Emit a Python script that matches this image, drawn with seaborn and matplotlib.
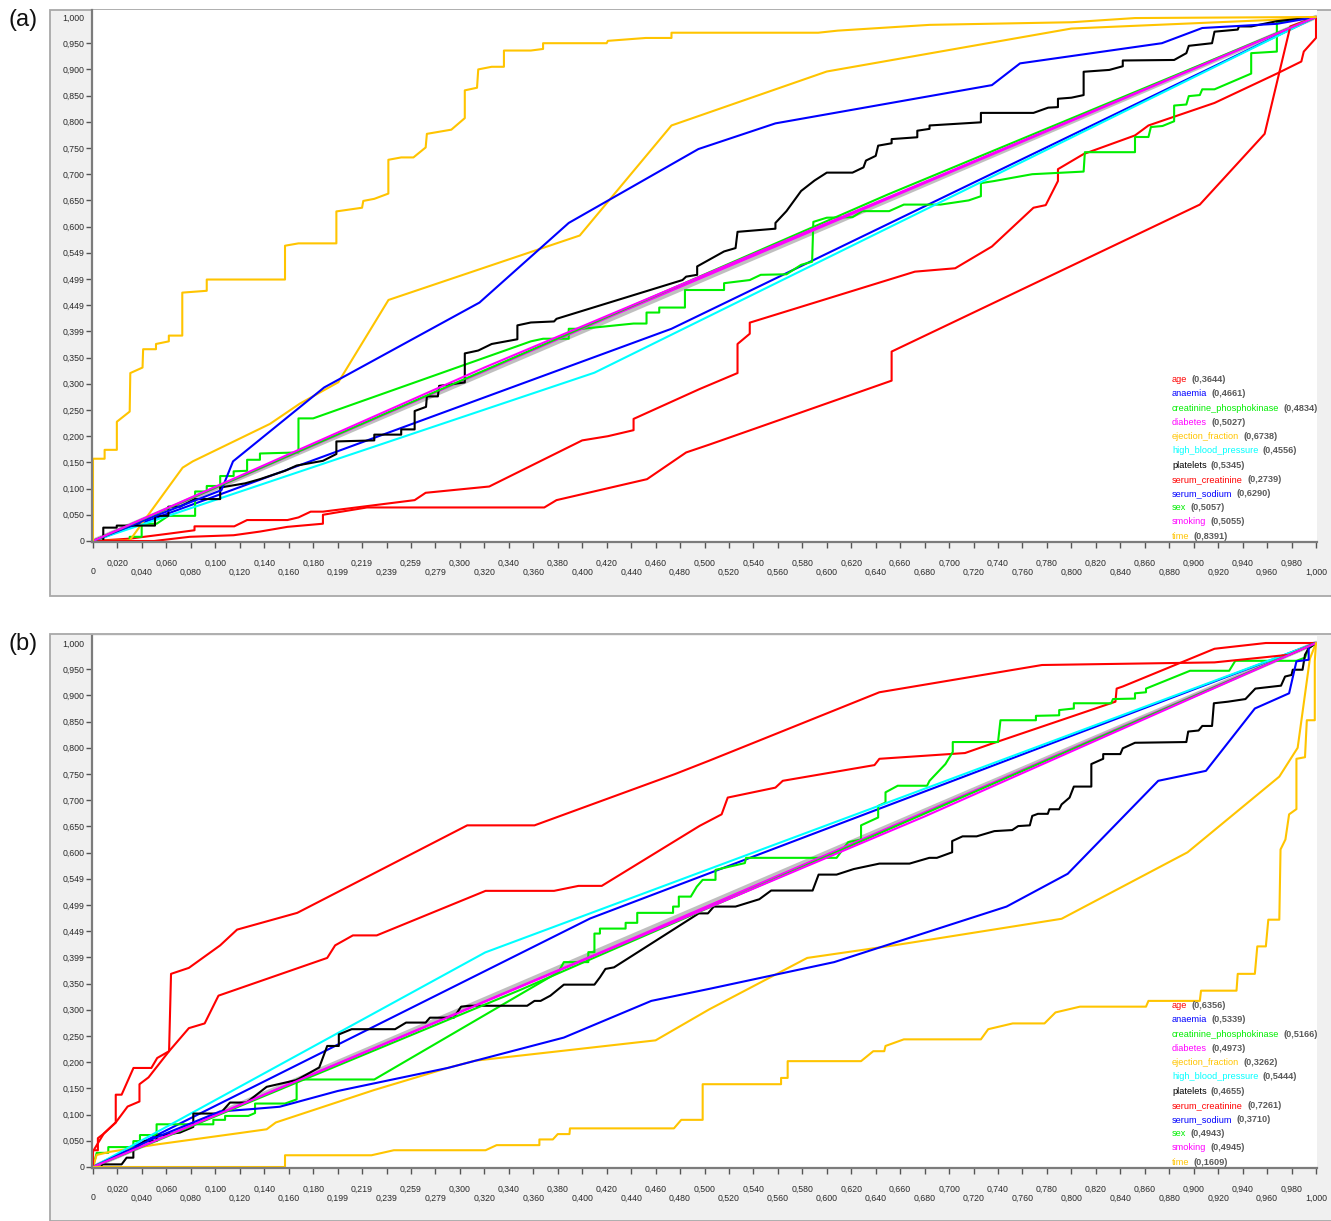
import numpy as np
import pandas as pd
import matplotlib
matplotlib.use("Agg")
import matplotlib.pyplot as plt
import seaborn as sns
from matplotlib.patches import Rectangle

sns.set_theme(style="white")
plt.rcParams["font.family"] = ["Liberation Sans", "DejaVu Sans"]

# ---------------------------------------------------------------- labels
ATTRIBUTES = ["age", "anaemia", "creatinine_phosphokinase", "diabetes",
              "ejection_fraction", "high_blood_pressure", "platelets",
              "serum_creatinine", "serum_sodium", "sex", "smoking", "time"]
COLORS = ["#ff0000", "#0000ff", "#00ee00", "#ff00ff", "#ffc400", "#00ffff",
          "#000000", "#ff0000", "#0000ff", "#00ee00", "#ff00ff", "#ffc400"]
AUC_A = [0.3644, 0.4661, 0.4834, 0.5027, 0.6738, 0.4556,
         0.5345, 0.2739, 0.6290, 0.5057, 0.5055, 0.8391]
AUC_B = [0.6356, 0.5339, 0.5166, 0.4973, 0.3262, 0.5444,
         0.4655, 0.7261, 0.3710, 0.4943, 0.4945, 0.1609]

X_TICK_LABELS = ["0", "0,020", "0,040", "0,060", "0,080", "0,100", "0,120", "0,140",
                 "0,160", "0,180", "0,199", "0,219", "0,239", "0,259", "0,279",
                 "0,300", "0,320", "0,340", "0,360", "0,380", "0,400", "0,420",
                 "0,440", "0,460", "0,480", "0,500", "0,520", "0,540", "0,560",
                 "0,580", "0,600", "0,620", "0,640", "0,660", "0,680", "0,700",
                 "0,720", "0,740", "0,760", "0,780", "0,800", "0,820", "0,840",
                 "0,860", "0,880", "0,900", "0,920", "0,940", "0,960", "0,980",
                 "1,000"]
Y_TICK_LABELS = ["0", "0,050", "0,100", "0,150", "0,200", "0,250", "0,300", "0,350",
                 "0,399", "0,449", "0,499", "0,549", "0,600", "0,650", "0,700",
                 "0,750", "0,800", "0,850", "0,900", "0,950", "1,000"]

# ------------------------------------------------- panel (a): (FPR, TPR) points
a_age = [(0, 0), (0.03, 0.0045), (0.062, 0.014), (0.083, 0.0205), (0.083, 0.028),
         (0.1155, 0.028), (0.126, 0.040), (0.159, 0.040), (0.168, 0.045), (0.178, 0.056),
         (0.188, 0.056), (0.263, 0.078), (0.272, 0.092), (0.324, 0.104), (0.400, 0.192),
         (0.421, 0.200), (0.442, 0.2115), (0.442, 0.233), (0.496, 0.290), (0.527, 0.3205),
         (0.527, 0.376), (0.537, 0.3955), (0.537, 0.4167), (0.672, 0.514), (0.705, 0.5205),
         (0.735, 0.562), (0.769, 0.636), (0.779, 0.641), (0.789, 0.687), (0.789, 0.7096),
         (0.810, 0.7385), (0.852, 0.774), (0.863, 0.793), (0.917, 0.836), (0.968, 0.892),
         (0.988, 0.915), (0.990, 0.934), (1.0, 0.96), (1.0, 1.0)]
a_anaemia = [(0, 0), (0.473, 0.405), (1, 1)]
a_creatinine_phosphokinase = [
    (0, 0), (0.03, 0), (0.03, 0.008), (0.0398, 0.008), (0.0398, 0.033), (0.0521, 0.033),
    (0.0616, 0.048), (0.0835, 0.048), (0.0835, 0.0945), (0.093, 0.0945), (0.093, 0.105),
    (0.104, 0.105), (0.104, 0.124), (0.115, 0.124), (0.115, 0.133), (0.126, 0.134),
    (0.126, 0.155), (0.1365, 0.155), (0.1365, 0.167), (0.168, 0.169), (0.168, 0.234),
    (0.180, 0.234), (0.358, 0.381), (0.368, 0.386), (0.389, 0.386), (0.389, 0.405),
    (0.400, 0.405), (0.442, 0.415), (0.4526, 0.415), (0.4526, 0.436), (0.463, 0.436),
    (0.463, 0.4455), (0.484, 0.4455), (0.484, 0.479), (0.516, 0.479), (0.516, 0.492),
    (0.537, 0.498), (0.546, 0.508), (0.567, 0.509), (0.579, 0.527), (0.588, 0.533),
    (0.589, 0.609), (0.600, 0.617), (0.621, 0.618), (0.629, 0.6295), (0.651, 0.6295),
    (0.663, 0.642), (0.693, 0.642), (0.716, 0.650), (0.726, 0.658), (0.726, 0.683),
    (0.737, 0.687), (0.768, 0.700), (0.810, 0.705), (0.811, 0.742), (0.852, 0.742),
    (0.852, 0.771), (0.863, 0.771), (0.865, 0.790), (0.8745, 0.792), (0.884, 0.801),
    (0.884, 0.831), (0.894, 0.833), (0.896, 0.849), (0.905, 0.851), (0.907, 0.862),
    (0.917, 0.862), (0.947, 0.892), (0.947, 0.931), (0.968, 0.934), (0.968, 0.990),
    (1, 1)]
a_diabetes = [(0, 0), (0.42, 0.4254), (1, 1)]
a_ejection_fraction = [
    (0, 0), (0.030, 0.001), (0.0733, 0.140), (0.0816, 0.152), (0.1447, 0.2235),
    (0.169, 0.262), (0.2006, 0.303), (0.2416, 0.460), (0.398, 0.583), (0.473, 0.793),
    (0.600, 0.896), (0.800, 0.978), (0.970, 0.995), (1, 1)]
a_high_blood_pressure = [(0, 0), (0.41, 0.3212), (1, 1)]
a_platelets = [
    (0, 0), (0.0084, 0), (0.0084, 0.0255), (0.0194, 0.0255), (0.0194, 0.0294),
    (0.0384, 0.0294), (0.0507, 0.0294), (0.0507, 0.048), (0.0616, 0.048), (0.0616, 0.0655),
    (0.0711, 0.0655), (0.0834, 0.080), (0.104, 0.080), (0.104, 0.102), (0.1243, 0.110),
    (0.1365, 0.118), (0.157, 0.134), (0.1665, 0.144), (0.188, 0.153), (0.199, 0.166),
    (0.199, 0.190), (0.230, 0.192), (0.230, 0.203), (0.252, 0.203), (0.252, 0.213),
    (0.263, 0.213), (0.263, 0.248), (0.2723, 0.256), (0.273, 0.276), (0.282, 0.276),
    (0.283, 0.296), (0.304, 0.3026), (0.304, 0.358), (0.315, 0.3635), (0.326, 0.376),
    (0.347, 0.385), (0.347, 0.4115), (0.358, 0.417), (0.377, 0.419), (0.379, 0.424),
    (0.482, 0.498), (0.485, 0.5045), (0.494, 0.508), (0.494, 0.524), (0.516, 0.5526),
    (0.5254, 0.559), (0.527, 0.590), (0.558, 0.596), (0.558, 0.607), (0.567, 0.6295),
    (0.579, 0.668), (0.590, 0.688), (0.600, 0.703), (0.621, 0.703), (0.630, 0.713),
    (0.632, 0.726), (0.640, 0.735), (0.642, 0.7545), (0.653, 0.759), (0.653, 0.767),
    (0.674, 0.7705), (0.674, 0.783), (0.684, 0.7865), (0.684, 0.793), (0.705, 0.796),
    (0.726, 0.799), (0.726, 0.817), (0.769, 0.817), (0.781, 0.827), (0.789, 0.828),
    (0.789, 0.844), (0.800, 0.846), (0.810, 0.851), (0.810, 0.8955), (0.831, 0.899),
    (0.842, 0.906), (0.842, 0.917), (0.884, 0.918), (0.894, 0.931), (0.896, 0.945),
    (0.915, 0.950), (0.917, 0.972), (0.936, 0.976), (0.937, 0.982), (0.947, 0.982),
    (0.968, 0.992), (1, 1)]
a_serum_creatinine = [
    (0, 0), (0.05, 0.0), (0.079, 0.008), (0.115, 0.011), (0.1365, 0.018), (0.159, 0.027),
    (0.188, 0.033), (0.188, 0.050), (0.198, 0.054), (0.224, 0.064), (0.369, 0.064),
    (0.379, 0.078), (0.453, 0.118), (0.485, 0.169), (0.504, 0.184), (0.653, 0.306),
    (0.653, 0.3615), (0.905, 0.642), (0.958, 0.777), (0.979, 0.982), (1, 1)]
a_serum_sodium = [
    (0, 0), (0.05, 0.047), (0.105, 0.097), (0.1145, 0.152), (0.189, 0.293),
    (0.316, 0.455), (0.389, 0.607), (0.495, 0.748), (0.558, 0.797), (0.735, 0.870),
    (0.758, 0.9115), (0.874, 0.950), (0.907, 0.979), (0.968, 0.987), (1, 1)]
a_sex = [(0, 0), (0.65, 0.6614), (1, 1)]
a_smoking = [(0, 0), (0.32, 0.331), (1, 1)]
a_time = [
    (0, 0), (0, 0.157), (0.0095, 0.157), (0.0095, 0.174), (0.0195, 0.174), (0.0195, 0.2276),
    (0.030, 0.247), (0.0305, 0.3205), (0.0405, 0.331), (0.041, 0.366), (0.0515, 0.366),
    (0.0515, 0.376), (0.062, 0.381), (0.062, 0.392), (0.073, 0.392), (0.073, 0.474),
    (0.093, 0.4775), (0.093, 0.499), (0.157, 0.499), (0.157, 0.5635), (0.168, 0.568),
    (0.199, 0.568), (0.199, 0.629), (0.220, 0.636), (0.221, 0.649), (0.230, 0.653),
    (0.2415, 0.663), (0.2415, 0.7275), (0.252, 0.732), (0.262, 0.732), (0.272, 0.751),
    (0.273, 0.777), (0.293, 0.785), (0.304, 0.807), (0.304, 0.860), (0.314, 0.865),
    (0.315, 0.900), (0.326, 0.905), (0.336, 0.905), (0.336, 0.936), (0.358, 0.936),
    (0.368, 0.939), (0.368, 0.950), (0.420, 0.950), (0.421, 0.9545), (0.452, 0.960),
    (0.473, 0.960), (0.473, 0.970), (0.593, 0.970), (0.609, 0.974), (0.684, 0.985),
    (0.800, 0.990), (0.852, 0.998), (1, 1)]

# ------------------------------------------------- panel (b): (FPR, TPR) points
b_age = [
    (0, 0), (0, 0.032), (0.004, 0.032), (0.004, 0.055), (0.009, 0.064), (0.0186, 0.085),
    (0.0186, 0.138), (0.0234, 0.138), (0.0331, 0.189), (0.0477, 0.189), (0.0525, 0.208),
    (0.0622, 0.221), (0.0784, 0.265), (0.0913, 0.274), (0.1026, 0.327), (0.1915, 0.399),
    (0.198, 0.423), (0.2125, 0.442), (0.232, 0.442), (0.321, 0.527), (0.377, 0.527),
    (0.397, 0.5365), (0.416, 0.5365), (0.496, 0.651), (0.514, 0.673), (0.519, 0.705),
    (0.558, 0.724), (0.564, 0.737), (0.639, 0.767), (0.643, 0.779), (0.713, 0.790),
    (0.735, 0.808), (0.836, 0.888), (0.837, 0.913), (0.842, 0.917), (0.917, 0.989),
    (0.959, 1.0), (1, 1)]
b_anaemia = [(0, 0), (0.4065, 0.4743), (1, 1)]
b_creatinine_phosphokinase = [
    (0, 0), (0.003, 0.027), (0.0125, 0.027), (0.0125, 0.038), (0.033, 0.038),
    (0.033, 0.0494), (0.0384, 0.0494), (0.0384, 0.061), (0.052, 0.061), (0.052, 0.0815),
    (0.0984, 0.0815), (0.0984, 0.090), (0.108, 0.090), (0.108, 0.0975), (0.127, 0.0975),
    (0.1325, 0.103), (0.1325, 0.1211), (0.157, 0.1211), (0.1665, 0.129), (0.1665, 0.167),
    (0.230, 0.167), (0.3806, 0.372), (0.385, 0.391), (0.405, 0.391), (0.405, 0.410),
    (0.410, 0.410), (0.410, 0.4455), (0.4145, 0.4455), (0.4145, 0.455), (0.4355, 0.455),
    (0.4355, 0.466), (0.445, 0.466), (0.445, 0.485), (0.4743, 0.485), (0.4743, 0.497),
    (0.479, 0.497), (0.479, 0.516), (0.4888, 0.516), (0.4937, 0.535), (0.4985, 0.548),
    (0.509, 0.548), (0.509, 0.567), (0.533, 0.580), (0.534, 0.590), (0.608, 0.590),
    (0.6175, 0.620), (0.628, 0.625), (0.628, 0.652), (0.642, 0.667), (0.642, 0.689),
    (0.648, 0.6955), (0.648, 0.715), (0.658, 0.7276), (0.682, 0.7276), (0.684, 0.737),
    (0.697, 0.769), (0.703, 0.792), (0.703, 0.811), (0.740, 0.811), (0.742, 0.8526),
    (0.771, 0.8526), (0.771, 0.861), (0.790, 0.862), (0.790, 0.872), (0.802, 0.875),
    (0.802, 0.885), (0.8325, 0.885), (0.834, 0.893), (0.852, 0.894), (0.852, 0.904),
    (0.861, 0.906), (0.861, 0.913), (0.897, 0.947), (0.929, 0.947), (0.934, 0.966),
    (0.984, 0.966), (0.991, 0.972), (0.994, 0.990), (1, 1)]
b_diabetes = [(0, 0), (0.42, 0.4146), (1, 1)]
b_ejection_fraction = [
    (0, 0), (0.003, 0.023), (0.014, 0.029), (0.052, 0.043), (0.1175, 0.064), (0.142, 0.072),
    (0.1495, 0.085), (0.230, 0.147), (0.290, 0.189), (0.3127, 0.203), (0.460, 0.2417),
    (0.504, 0.301), (0.584, 0.399), (0.655, 0.423), (0.792, 0.4737), (0.895, 0.6006),
    (0.970, 0.745), (0.985, 0.800), (0.995, 0.970), (1, 1)]
b_high_blood_pressure = [(0, 0), (0.3207, 0.4095), (1, 1)]
b_platelets = [
    (0, 0), (0.0071, 0), (0.0071, 0.005), (0.0234, 0.005), (0.0275, 0.0178), (0.033, 0.0178),
    (0.033, 0.0338), (0.0425, 0.0497), (0.052, 0.0497), (0.052, 0.0593), (0.0711, 0.0657),
    (0.082, 0.0765), (0.082, 0.102), (0.104, 0.102), (0.112, 0.123), (0.1256, 0.123),
    (0.1325, 0.1357), (0.142, 0.153), (0.1665, 0.166), (0.185, 0.190), (0.1915, 0.231),
    (0.201, 0.231), (0.201, 0.253), (0.2115, 0.263), (0.247, 0.263), (0.256, 0.2756),
    (0.272, 0.2756), (0.2755, 0.285), (0.295, 0.285), (0.301, 0.306), (0.3078, 0.3077),
    (0.355, 0.3077), (0.361, 0.317), (0.366, 0.317), (0.374, 0.327), (0.385, 0.348),
    (0.410, 0.348), (0.4145, 0.362), (0.419, 0.378), (0.426, 0.381), (0.4953, 0.484),
    (0.5028, 0.484), (0.5076, 0.497), (0.5254, 0.497), (0.5448, 0.511), (0.5545, 0.5276),
    (0.5884, 0.5276), (0.5933, 0.558), (0.608, 0.558), (0.622, 0.5686), (0.643, 0.579),
    (0.6676, 0.579), (0.6838, 0.590), (0.690, 0.590), (0.7025, 0.6006), (0.7025, 0.622),
    (0.711, 0.631), (0.7225, 0.631), (0.737, 0.641), (0.7516, 0.643), (0.7565, 0.6506),
    (0.766, 0.652), (0.768, 0.670), (0.7726, 0.674), (0.7807, 0.674), (0.782, 0.6827),
    (0.790, 0.6827), (0.792, 0.692), (0.7985, 0.705), (0.802, 0.726), (0.8163, 0.726),
    (0.8163, 0.769), (0.826, 0.779), (0.826, 0.788), (0.840, 0.788), (0.842, 0.799),
    (0.852, 0.8096), (0.894, 0.811), (0.8955, 0.831), (0.904, 0.833), (0.907, 0.8417),
    (0.915, 0.8417), (0.9165, 0.885), (0.928, 0.888), (0.9423, 0.893), (0.9504, 0.913),
    (0.9714, 0.9186), (0.9747, 0.936), (0.980, 0.939), (0.981, 0.949), (0.989, 0.949),
    (0.991, 0.9776), (0.994, 0.990), (1, 1)]
b_serum_creatinine = [
    (0, 0), (0, 0.030), (0.0089, 0.064), (0.0186, 0.085), (0.0283, 0.1154), (0.038, 0.125),
    (0.038, 0.158), (0.0454, 0.171), (0.0622, 0.221), (0.0638, 0.3686), (0.0784, 0.380),
    (0.104, 0.423), (0.1178, 0.453), (0.167, 0.485), (0.306, 0.652), (0.361, 0.652),
    (0.476, 0.750), (0.504, 0.7756), (0.643, 0.906), (0.776, 0.958), (0.917, 0.963),
    (0.978, 0.9776), (1, 1)]
b_serum_sodium = [
    (0, 0), (0.05, 0.055), (0.104, 0.106), (0.127, 0.110), (0.1527, 0.115), (0.200, 0.145),
    (0.290, 0.189), (0.385, 0.247), (0.4565, 0.317), (0.504, 0.340), (0.606, 0.391),
    (0.747, 0.497), (0.797, 0.5596), (0.871, 0.737), (0.910, 0.756), (0.950, 0.875),
    (0.978, 0.904), (0.984, 0.965), (0.994, 0.968), (0.994, 0.994), (1, 1)]
b_sex = [(0, 0), (0.35, 0.3386), (1, 1)]
b_smoking = [(0, 0), (0.68, 0.669), (1, 1)]
b_time = [
    (0, 0), (0.157, 0), (0.157, 0.0224), (0.2277, 0.0224), (0.246, 0.032), (0.321, 0.032),
    (0.330, 0.0417), (0.365, 0.0417), (0.365, 0.0526), (0.376, 0.0526), (0.380, 0.0628),
    (0.3896, 0.0628), (0.390, 0.0737), (0.475, 0.0737), (0.481, 0.090), (0.4985, 0.090),
    (0.4985, 0.158), (0.5626, 0.158), (0.5626, 0.170), (0.568, 0.170), (0.568, 0.202),
    (0.628, 0.202), (0.638, 0.221), (0.647, 0.221), (0.648, 0.231), (0.663, 0.2436),
    (0.726, 0.2436), (0.732, 0.263), (0.752, 0.274), (0.778, 0.274), (0.787, 0.295),
    (0.807, 0.306), (0.861, 0.306), (0.863, 0.317), (0.905, 0.317), (0.906, 0.3365),
    (0.935, 0.3365), (0.936, 0.3686), (0.950, 0.3686), (0.952, 0.421), (0.959, 0.421),
    (0.961, 0.472), (0.970, 0.472), (0.971, 0.606), (0.975, 0.625), (0.978, 0.673),
    (0.984, 0.683), (0.984, 0.779), (0.991, 0.782), (0.9925, 0.8526), (0.999, 0.8526),
    (0.999, 0.965), (1, 1)]

CURVES_A = [a_age, a_anaemia, a_creatinine_phosphokinase, a_diabetes, a_ejection_fraction,
            a_high_blood_pressure, a_platelets, a_serum_creatinine, a_serum_sodium,
            a_sex, a_smoking, a_time]
CURVES_B = [b_age, b_anaemia, b_creatinine_phosphokinase, b_diabetes, b_ejection_fraction,
            b_high_blood_pressure, b_platelets, b_serum_creatinine, b_serum_sodium,
            b_sex, b_smoking, b_time]

W, H = 1331, 1221
PANEL_BG = "#f0f0f0"


def to_frame(curves):
    rows = []
    for name, pts in zip(ATTRIBUTES, curves):
        for k, (fx, ty) in enumerate(pts):
            rows.append((name, k, fx, ty))
    return pd.DataFrame(rows, columns=["attribute", "step", "fpr", "tpr"])


def px_rect(x0, y0, x1, y1):
    """Figure-fraction rectangle from pixel corners (top-left origin)."""
    return [x0 / W, 1 - y1 / H, (x1 - x0) / W, (y1 - y0) / H]


def draw_panel(fig, panel_top, panel_bottom, plot_top, plot_bottom, curves, aucs, tag):
    # grey frame behind the plot, as in the classifier GUI
    l, b, w, h = px_rect(50, panel_top, W + 2, panel_bottom)
    fig.patches.append(Rectangle((l, b), w, h, transform=fig.transFigure,
                                 facecolor=PANEL_BG, edgecolor="#a8a8a8",
                                 linewidth=1.3, zorder=-5))
    fig.text(8 / W, 1 - (panel_top + 10) / H, tag, fontsize=17, va="center", ha="left",
             color="#111111")

    ax = fig.add_axes(px_rect(92, plot_top, 1317, plot_bottom))
    ax.set_facecolor("white")

    diag = pd.DataFrame({"fpr": [0, 1], "tpr": [0, 1]})
    sns.lineplot(data=diag, x="fpr", y="tpr", color="#b0b0b0", linewidth=3.2,
                 alpha=0.8, ax=ax)

    df = to_frame(curves)
    sns.lineplot(data=df, x="fpr", y="tpr", hue="attribute", hue_order=ATTRIBUTES,
                 palette=dict(zip(ATTRIBUTES, COLORS)), sort=False, estimator=None,
                 linewidth=1.5, legend=False, ax=ax)

    # axis ranges: 0 sits on the bottom axis line, 1 a few pixels below the top edge
    unit = 524.0
    ax.set_xlim(-1 / 1223, 1 + 1 / 1223)
    ax.set_ylim(-1 / unit, (plot_bottom - plot_top - 1) / unit)
    ax.set_xlabel("")
    ax.set_ylabel("")

    for s in ("top", "right"):
        ax.spines[s].set_visible(False)
    for s in ("left", "bottom"):
        ax.spines[s].set_color("#7c7c7c")
        ax.spines[s].set_linewidth(1.6)

    xt = np.round(np.arange(51) * 0.02, 2)
    ax.set_xticks(xt[::2], labels=X_TICK_LABELS[::2])
    ax.set_xticks(xt[1::2], labels=X_TICK_LABELS[1::2], minor=True)
    ax.tick_params(axis="x", which="major", direction="out", length=4.3, width=1.0,
                   color="#555555", pad=14, labelsize=6.3, labelcolor="#2a2a2a",
                   bottom=True)
    ax.tick_params(axis="x", which="minor", direction="out", length=4.3, width=1.0,
                   color="#555555", pad=7.6, labelsize=6.3, labelcolor="#2a2a2a",
                   bottom=True)

    yt = np.round(np.arange(21) * 0.05, 2)
    ax.set_yticks(yt, labels=Y_TICK_LABELS)
    ax.tick_params(axis="y", direction="out", length=4.3, width=1.0, color="#555555",
                   pad=1.0, labelsize=6.3, labelcolor="#2a2a2a", left=True)
    ax.yaxis.get_major_ticks()[-1].tick1line.set_visible(False)
    ax.grid(False)

    # legend: coloured attribute name followed by its AUC
    for i, (name, col, auc) in enumerate(zip(ATTRIBUTES, COLORS, aucs)):
        t = ax.text(0.8816, 0.305 - i * 0.02674, name, color=col, fontsize=6.6,
                    transform=ax.transAxes, ha="left", va="center")
        ax.annotate(f"({auc:.4f})".replace(".", ","), xy=(1, 0.5), xycoords=t,
                    xytext=(3, 0), textcoords="offset points", ha="left", va="center",
                    fontsize=6.6, color="#5a5a5a", fontweight="bold")
    return ax


fig = plt.figure(figsize=(W / 100, H / 100), dpi=100)
fig.patch.set_facecolor("white")

draw_panel(fig, 10, 596, 10, 542, CURVES_A, AUC_A, "(a)")
draw_panel(fig, 634, 1221, 636, 1168, CURVES_B, AUC_B, "(b)")

fig.savefig("out.png", dpi=100, facecolor="white")
